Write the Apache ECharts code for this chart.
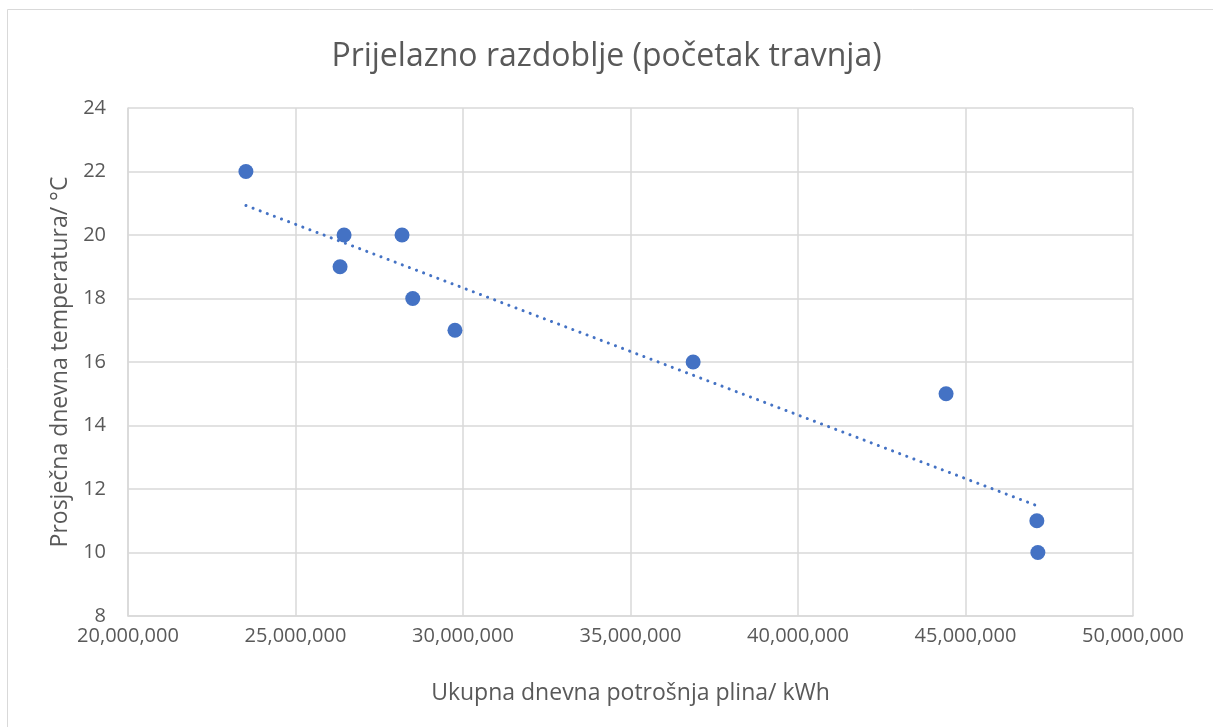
<!DOCTYPE html>
<html>
<head>
<meta charset="utf-8">
<script src="https://cdn.jsdelivr.net/npm/echarts@6/dist/echarts.min.js"></script>
<style>
html, body { margin: 0; padding: 0; background: #fff; }
#chart { width: 1213px; height: 727px; }
</style>
</head>
<body>
<div id="chart"></div>
<script>
// potrosnja plina (kWh) i prosjecna temperatura (°C)
var potrosnja = [23520000, 26450000, 26330000, 28180000, 28500000, 29760000, 36870000, 44420000, 47130000, 47160000];
var temperatura = [22, 20, 19, 20, 18, 17, 16, 15, 11, 10];

var points = potrosnja.map(function (x, i) { return [x, temperatura[i]]; });

// linearni trend (najmanji kvadrati)
var n = potrosnja.length;
var mx = potrosnja.reduce(function (a, b) { return a + b; }, 0) / n;
var my = temperatura.reduce(function (a, b) { return a + b; }, 0) / n;
var sxy = 0, sxx = 0;
for (var i = 0; i < n; i++) {
    sxy += (potrosnja[i] - mx) * (temperatura[i] - my);
    sxx += (potrosnja[i] - mx) * (potrosnja[i] - mx);
}
var k = sxy / sxx;
var xMin = Math.min.apply(null, potrosnja), xMax = Math.max.apply(null, potrosnja);
var trend = [[xMin, my + k * (xMin - mx)], [xMax, my + k * (xMax - mx)]];

var font = 'Open Sans';
var myChart = echarts.init(document.getElementById('chart'));

var option = {
    backgroundColor: '#fff',
    textStyle: { fontFamily: font },
    graphic: [{
        type: 'rect',
        shape: { x: 7.5, y: 9.5, width: 1220, height: 730 },
        style: { fill: 'none', stroke: '#d9d9d9', lineWidth: 1 },
        silent: true
    }],
    title: {
        text: 'Prijelazno razdoblje (početak travnja)',
        left: 'center',
        top: 36,
        textStyle: { fontFamily: font, fontSize: 32, fontWeight: 'normal', color: '#595959' }
    },
    grid: { left: 128, right: 80, top: 108, bottom: 111 },
    xAxis: {
        type: 'value',
        min: 20000000,
        max: 50000000,
        interval: 5000000,
        name: 'Ukupna dnevna potrošnja plina/ kWh',
        nameLocation: 'middle',
        nameGap: 66,
        nameTextStyle: { fontFamily: font, fontSize: 23, color: '#595959' },
        axisLine: { show: true, lineStyle: { color: '#d9d9d9', width: 1.5 } },
        axisTick: { show: false },
        axisLabel: {
            fontFamily: font, fontSize: 20, color: '#595959', margin: 10,
            formatter: function (v) { return v.toLocaleString('en-US'); }
        },
        splitLine: { show: true, lineStyle: { color: '#d9d9d9', width: 1.5 } }
    },
    yAxis: {
        type: 'value',
        min: 8,
        max: 24,
        interval: 2,
        name: 'Prosječna dnevna temperatura/ °C',
        nameLocation: 'middle',
        nameGap: 56,
        nameTextStyle: { fontFamily: font, fontSize: 23, color: '#595959' },
        axisLine: { show: true, lineStyle: { color: '#d9d9d9', width: 1.5 } },
        axisTick: { show: false },
        axisLabel: { fontFamily: font, fontSize: 20, color: '#595959', margin: 22 },
        splitLine: { show: true, lineStyle: { color: '#d9d9d9', width: 1.5 } }
    },
    series: [
        {
            type: 'line',
            data: trend,
            symbol: 'none',
            silent: true,
            lineStyle: { color: '#4472c4', width: 3, type: [0.1, 7.5], cap: 'round' },
            z: 2
        },
        {
            type: 'scatter',
            data: points,
            symbolSize: 15,
            itemStyle: { color: '#4472c4', opacity: 1 },
            z: 3
        }
    ]
};

myChart.setOption(option);
</script>
</body>
</html>
